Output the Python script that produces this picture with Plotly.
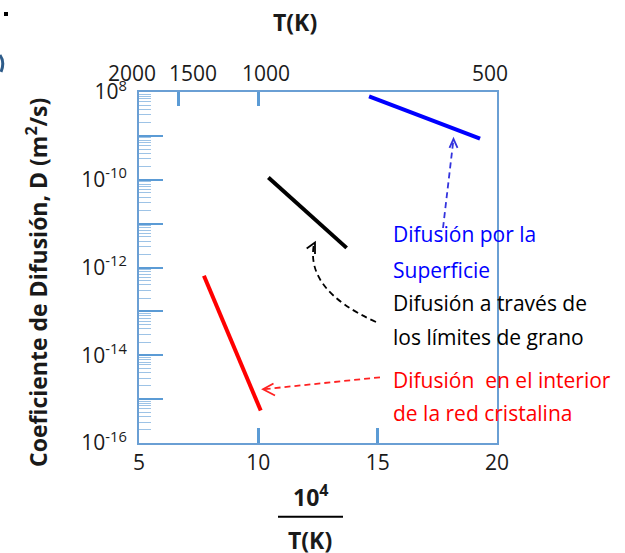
import plotly.graph_objects as go

# ---------------- data ----------------
x_ticks = [5, 10, 15, 20]
T_top = [2000, 1500, 1000, 500]
y_exponents = [-16, -15, -14, -13, -12, -11, -10, -9, -8]
y_labels = ["10<sup>-16</sup>", "", "10<sup>-14</sup>", "", "10<sup>-12</sup>", "",
            "10<sup>-10</sup>", "", "10<sup>8</sup>"]

surf_x = [14.64, 19.29]
surf_D = [7.9e-9, 8.7e-10]
gb_x = [10.42, 13.70]
gb_D = [1.12e-10, 2.8e-12]
lat_x = [7.72, 10.10]
lat_D = [6.5e-13, 5.5e-16]

# ---------------- geometry helpers (plot area in pixels) ----------------
L, R, T, B = 139, 497, 92, 443
W, H = R - L, B - T


def px(x):
    return (x - L) / W


def py(y):
    return (B - y) / H


FONT = "Open Sans"
AX = "#6a9fd4"
TICK = "#5b9bd5"
MINOR = "#9dc3e6"
TXT = "#1a1a1a"

fig = go.Figure()
fig.add_trace(go.Scatter(x=surf_x, y=surf_D, mode="lines", line=dict(color="#0000ff", width=4),
                         showlegend=False, hoverinfo="skip"))
fig.add_trace(go.Scatter(x=gb_x, y=gb_D, mode="lines", line=dict(color="#000000", width=4),
                         showlegend=False, hoverinfo="skip"))
fig.add_trace(go.Scatter(x=lat_x, y=lat_D, mode="lines", line=dict(color="#ff0000", width=4),
                         showlegend=False, hoverinfo="skip"))
# invisible trace so top axis is drawn
fig.add_trace(go.Scatter(x=[5, 20], y=[1e-16, 1e-16], xaxis="x2", mode="markers",
                         marker=dict(opacity=0), showlegend=False, hoverinfo="skip"))

tickfont = dict(family=FONT, size=21, color=TXT)

fig.update_layout(
    width=625, height=553,
    margin=dict(l=L, r=625 - R, t=T, b=553 - B),
    paper_bgcolor="white", plot_bgcolor="white",
    xaxis=dict(range=[5, 20], tickmode="array", tickvals=x_ticks, ticktext=[str(v) for v in x_ticks],
               ticks="inside", ticklen=15, tickwidth=3, tickcolor=TICK,
               showline=True, linecolor=AX, linewidth=2, mirror=True,
               showgrid=False, zeroline=False, tickfont=tickfont, tickangle=0),
    xaxis2=dict(range=[5, 20], overlaying="x", side="top", tickmode="array",
                tickvals=[1e4 / t for t in T_top], ticktext=["" for t in T_top],
                ticks="inside", ticklen=14, tickwidth=3, tickcolor=TICK,
                showline=False, showgrid=False, zeroline=False),
    yaxis=dict(type="log", range=[-16, -8], tickmode="array",
               tickvals=[10.0 ** e for e in y_exponents], ticktext=y_labels,
               ticks="inside", ticklen=24, tickwidth=2, tickcolor=TICK,
               minor=dict(ticks="inside", ticklen=12, tickwidth=1, tickcolor=MINOR, dtick="D1"),
               showline=True, linecolor=AX, linewidth=2, mirror=True,
               showgrid=False, zeroline=False, tickfont=tickfont, ticklabelstandoff=6),
)

ann = []
# top temperature tick labels (placed at 1e4/T with small visual offsets)
top_shift = [-7, 14, 8, -7]
for t, s in zip(T_top, top_shift):
    ann.append(dict(text=str(t), x=1e4 / t, y=py(73), xref="x2", yref="paper", xshift=s,
                    xanchor="center", yanchor="middle", showarrow=False, font=tickfont))
# axis titles
ann.append(dict(text="<b>Coeficiente de Difusión, D (m<sup>2</sup>/s)</b>", x=px(37), y=py(283),
                xref="paper", yref="paper", textangle=-90, showarrow=False,
                xanchor="center", yanchor="middle",
                font=dict(family=FONT, size=23, color=TXT)))
ann.append(dict(text="<b>10<sup>4</sup></b>", x=px(311), y=py(496), xref="paper", yref="paper",
                xanchor="center", yanchor="middle",
                showarrow=False, font=dict(family=FONT, size=23, color=TXT)))
ann.append(dict(text="<b>T(K)</b>", x=px(310), y=py(540), xref="paper", yref="paper",
                xanchor="center", yanchor="middle",
                showarrow=False, font=dict(family=FONT, size=23, color=TXT)))
ann.append(dict(text="<b>T(K)</b>", x=px(295), y=py(22), xref="paper", yref="paper",
                xanchor="center", yanchor="middle",
                showarrow=False, font=dict(family=FONT, size=23, color=TXT)))

# legend-like texts
texts = [
    ("Difusión por la", 234, "#0000ff"),
    ("Superficie", 270, "#0000ff"),
    ("Difusión a través de", 303, "#000000"),
    ("los límites de grano", 337, "#000000"),
    ("Difusión\u00a0 en el interior", 380, "#ff0000"),
    ("de la red cristalina", 413, "#ff0000"),
]
for t, yy, c in texts:
    ann.append(dict(text=t, x=px(391), y=py(yy), xref="paper", yref="paper", xanchor="left",
                    yanchor="middle", showarrow=False, font=dict(family=FONT, size=21, color=c)))
fig.update_layout(annotations=ann)


def P(x, y):
    return f"{px(x):.4f},{py(y):.4f}"


shapes = []
dash = "6px,4px"
# blue arrow
shapes.append(dict(type="path", xref="paper", yref="paper",
                   path=f"M{P(443, 228)} L{P(453.5, 139)}",
                   line=dict(color="#3333dd", width=1.8, dash=dash)))
shapes.append(dict(type="path", xref="paper", yref="paper",
                   path=f"M{P(449.5, 148)} L{P(453.5, 139)} L{P(457.5, 148)}",
                   line=dict(color="#3333dd", width=1.8)))
# black curved arrow
shapes.append(dict(type="path", xref="paper", yref="paper",
                   path=f"M{P(376, 322)} Q{P(305, 290)} {P(314, 244)}",
                   line=dict(color="#000000", width=1.8, dash=dash)))
shapes.append(dict(type="path", xref="paper", yref="paper",
                   path=f"M{P(306.7, 248.5)} L{P(315, 242.5)} L{P(315, 254)}",
                   line=dict(color="#000000", width=1.8)))
# red arrow
shapes.append(dict(type="path", xref="paper", yref="paper",
                   path=f"M{P(380, 377.3)} L{P(263, 389.3)}",
                   line=dict(color="#ff2222", width=1.8, dash=dash)))
shapes.append(dict(type="path", xref="paper", yref="paper",
                   path=f"M{P(273.5, 383.5)} L{P(263, 389.3)} L{P(275, 395.5)}",
                   line=dict(color="#ff2222", width=1.8)))
# fraction bar
shapes.append(dict(type="line", xref="paper", yref="paper", x0=px(278), x1=px(343),
                   y0=py(516.7), y1=py(516.7), line=dict(color="#000000", width=2)))
# small leftover marks at top-left (cropped slide remnants)
shapes.append(dict(type="rect", xref="paper", yref="paper", x0=px(4), x1=px(8), y0=py(16), y1=py(12),
                   fillcolor="#000000", line=dict(width=0)))
shapes.append(dict(type="path", xref="paper", yref="paper",
                   path=f"M{P(0, 55)} Q{P(5, 62)} {P(1, 72)}",
                   line=dict(color="#2e5c8a", width=3)))
fig.update_layout(shapes=shapes)

fig.write_html("out.html")
